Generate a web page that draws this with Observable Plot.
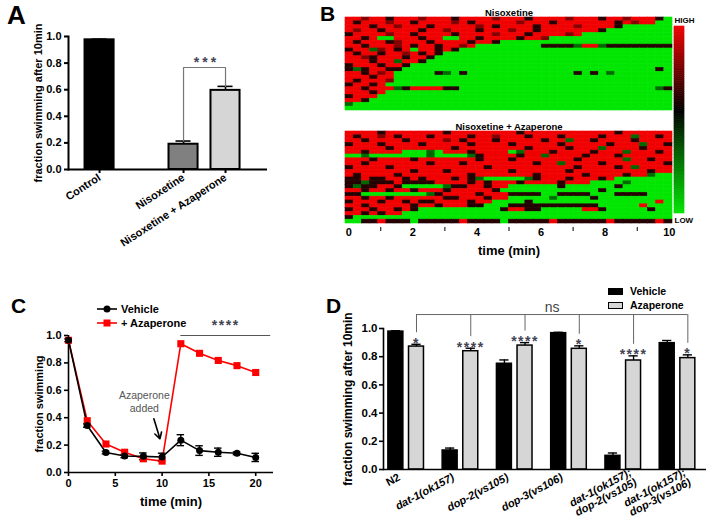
<!DOCTYPE html>
<html>
<head>
<meta charset="utf-8">
<script src="https://cdn.jsdelivr.net/npm/d3@7"></script>
<script src="https://cdn.jsdelivr.net/npm/@observablehq/plot@0.6"></script>
<style>
  html, body { margin: 0; padding: 0; background: #fff; }
  #fig { position: relative; width: 712px; height: 529px; overflow: hidden; background: #fff;
         font-family: "Liberation Sans", Arial, sans-serif; color: #000; }
  .letter { position: absolute; font-family: "Liberation Sans", Arial, sans-serif; font-weight: bold; line-height: normal; }
  .leg { position: absolute; font-weight: bold; white-space: nowrap; line-height: normal; }
</style>
</head>
<body>
<div id="fig"></div>
<script>
// ================= DATA =================
// Panel A
const catsA = ["Control", "Nisoxetine", "Nisoxetine + Azaperone"];
const valsA = [0.975, 0.19, 0.595];
const errsA = [0.005, 0.024, 0.03];
const sigPairA = ["Nisoxetine", "Nisoxetine + Azaperone"];
const sigLabelA = "***";
const sigLevelA = 0.767;

// Panel B (heat maps: G bright green … K black … R bright red)
const panelsB = ["Nisoxetine", "Nisoxetine + Azaperone"];
const heatStart = -0.1, heatEnd = 10.1;
const heatNis = [
  "RRrRRKRRRr RRRKRRRRrR RRKRRRRrRR RKRRrRRRKG",
  "RKRRRrRRKR RRRrRKRRRR RrRRRKRRRR RRRKRrRRGG",
  "RRRKRRrRRR KRRRRRrRKR RRRKRRRRrR RRRKGGGGGG",
  "RrRRKRRRRK RRrRRRKRRR rRRKRRRRRR RKGGGGGGGG",
  "KRRRRrRRKR RRRKRRRRrR RRKRRRRrRG GGGGGGGGGG",
  "RRKRGGRRRK RRGGRRKRRR RKRRrGGGGG GGGGGGGGGG",
  "RKRRRKrRRR KRRRRKRRKG GGGGGGGGGG GGGGGGGGGG",
  "RRKRRRrRKR RKRRrRGGGG GGGGKKKKgR RgKKKKKKKK",
  "KRRgrRKRGR RKRKGGGGGG GGGGGGGGGG GGGGGGGGGG",
  "RKRRKRRrRK RKGGGGGGGG GGGGGGGGGG GGGGGGGGGG",
  "RRrKRRRKRR KGGGGGGGGG GGGGGGGGGG GGGGGGGGGG",
  "RRRKRRgRRK GGGGGGGGGG GGGGGGGGGG GGGGGGGGGG",
  "KRRRKRRKGG GGGGGGGGGG GGGGGGGGGG GGGGGGGGGG",
  "KgKRRKKGGG GGGGGGGGGG GGGGGGGGGG GGGGGGGGKG",
  "RRKRrRGGGG GKgGKGGGGG GGGGGGGGKG KGgGGGGGGG",
  "RRRKRRGGGG GGGGGGGGGG GGGGGGGGGG GGGGGGGGGG",
  "RKRRRrGGGG GGGGGGGGGG GGGGGGGGGG GGGGGGGGGG",
  "KRRKRGGGGG GGGGGGGGGG GGGGGGGGGG GGGGGGGGGG",
  "RRKRRRgKRR RRKKGGGGGG GGGGGGGGGG GGGGGGGGgK",
  "RRRKRGGGGG GGGGGGGGGG GGGGGGGGGG GGGGGGGGGG",
  "KRRRGGGGGG GGGGGGGGGG GGGGGGGGGG GGGGGGGGGG",
  "RRKGGGGGGG GGGGGGGGGG GGGGGGGGGG GGGGGGGGGG",
  "gGGGGGGGGG GGGGGGGGGG GGGGGGGGGG GGGGGGGGGG",
  "GGGGGGGGGG GGGGGGGGGG GGGGGGGGGG GGGGGGGGGG"
];
const heatNisAza = [
  "RRRRKRRRRR RRKRRRRRRR RKRRRRRRRR RRRKRRRRRR",
  "RKRRrRKRRR KRRRRKRRrR RRKRRRKRRR RKRRRgRRKR",
  "RRKRRRRKRR RRrRKRRRKR RRRRKRRgRR KRRRRKRRRR",
  "KRRRKRRRRK RRRRRKRRRR KRRRRRKRRR RRKRRRgRRK",
  "RRRRRKRRRR RRRKRRRRRR RRKRRRRKRR RgRRRRKRRR",
  "RRKRRRRGGG gGRRRKRRRR GgRRRKRRRR KRRRgRRRKR",
  "GGgGGGGGGG gGGGGgKRRR RKRRgRRRRK RRRKRRRRRR",
  "RRRKRRRRKR RRRRRRKRRR KRRRRRRRKR RRRRgRRKRR",
  "RRKRRRRRRR KRRRKRRRRR RRRKRRgRRR RKRRRRRRRK",
  "KRRRRKRRRR RRRRRRRKRR RRRRRRRRKR RRRKRgRRRR",
  "RRRRRRRRKR RRKRRRRRRR KRRRRRRKRR RRRRRRRKRR",
  "RKRRRRKRRR RRRRRKRRRR RRRKRRRRRK RRRRKRRgGG",
  "KKRKKRRKRK RRRKRKgGGG GGgKRRRKRR RKRGGGGGGG",
  "KKgKKKRKKK KRRRRKRKRR RKRRRRKRRR GGGGgGGGGG",
  "KgKKRRKGGG GGgKKRRKRR GGGGGGKGGG GGGKGGGGGG",
  "RRKRRKRRKR RRKRRRRRKG GGGGGGGGGG GKGGGGGGGG",
  "KKGGGGGGGG gKRRRRKRRR KKKKGGKKKK GGGKKKKGGG",
  "RRKRRKRRRR RRKKRRRKRR GGGGGgGGGG KGGGGGGGGG",
  "KRRRKRRKRK KRRRRKRRGG GGKGGGGGGG GGGGGGGGRG",
  "RRKRRRRRKR RKRRRKKGGG KKKKKKKKKK KGGGGGRGGG",
  "KRRKRRKRKG GGGGGGGGGK RRKKGGGGGR RKGGGGGKGG",
  "RRKRKRRGGG GGGGGGGGGG GGGGGGGGGG GGGGGGGGGG",
  "KGGGGGGGGG GGGGGGGGGG GGGGGGGGGG GGGGGGGGGG",
  "GGKKRKKKGK KKKKRKKKKG KKKKKRKKKK KKRKKKKKRK"
];
const heatLevel = {G: 0, g: 0.3, K: 0.62, r: 0.8, R: 1};
const colorbarLabels = ["HIGH", "LOW"];
const ticksB = [0, 2, 4, 6, 8, 10];
const minorTicksB = [1, 3, 5, 7, 9];

// Panel C
const timeC = [0, 2, 4, 6, 8, 10, 12, 14, 16, 18, 20];
const vehicleC = [0.965, 0.343, 0.146, 0.12, 0.118, 0.113, 0.236, 0.16, 0.148, 0.14, 0.11];
const vehicleErrC = [0.01, 0.012, 0.01, 0.012, 0.025, 0.028, 0.04, 0.035, 0.03, 0.01, 0.03];
const azaC = [0.965, 0.378, 0.208, 0.148, 0.1, 0.083, 0.94, 0.87, 0.818, 0.78, 0.73];
const seriesC = ["Vehicle", "+ Azaperone"];
const sigSpanC = [12, 21.6];
const sigLevelC = 1.0;
const sigLabelC = "****";
const noteC = "Azaperone\nadded";
const noteAtC = [8.1, 0.52];
const arrowC = [9.12, 0.392, 9.77, 0.246];

// Panel D
const strainsD = ["N2", "dat-1(ok157)", "dop-2(vs105)", "dop-3(vs106)",
                  "dat-1(ok157);\ndop-2(vs105)", "dat-1(ok157);\ndop-3(vs106)"];
const treatD = ["Vehicle", "Azaperone"];
const vehicleD = [0.978, 0.135, 0.75, 0.967, 0.097, 0.896];
const vehicleErrD = [0.006, 0.017, 0.027, 0.006, 0.02, 0.019];
const azaD = [0.872, 0.839, 0.879, 0.856, 0.773, 0.79];
const azaErrD = [0.016, 0.021, 0.021, 0.021, 0.033, 0.023];
const sigD = ["*", "****", "****", "*", "****", "*"];
const nsLabelD = "ns";
const nsLevelD = 1.099;

// ================= DRAWING =================
const fig = document.getElementById("fig");
function place(node, left, top) {
  node.style.position = "absolute";
  node.style.left = left + "px";
  node.style.top = top + "px";
  fig.appendChild(node);
  return node;
}
function html(tag, cls, text, styles) {
  const e = document.createElement(tag);
  if (cls) e.className = cls;
  if (text != null) e.textContent = text;
  Object.assign(e.style, styles || {});
  fig.appendChild(e);
  return e;
}
const baseStyle = {
  fontFamily: '"Liberation Sans", Arial, sans-serif',
  fontSize: "11px", fontWeight: "bold",
  background: "transparent", overflow: "visible"
};
function spaceStars(svg, spacing) {
  svg.querySelectorAll("text").forEach(t => {
    if (/^\*+$/.test(t.textContent.trim())) t.setAttribute("letter-spacing", spacing);
  });
}
function styleLabel(svg, which, size) {
  svg.querySelectorAll(`g[aria-label="${which}-axis label"] text`).forEach(t => {
    t.setAttribute("font-size", size);
  });
}

// ---------- Panel A ----------
{
  const dataA = catsA.map((c, i) => ({cat: c, v: valsA[i], e: errsA[i]}));
  const top = c => valsA[catsA.indexOf(c)] + errsA[catsA.indexOf(c)];
  const bracket = [
    {x: sigPairA[0], y: top(sigPairA[0])},
    {x: sigPairA[0], y: sigLevelA},
    {x: sigPairA[1], y: sigLevelA},
    {x: sigPairA[1], y: top(sigPairA[1])}
  ];
  const svg = Plot.plot({
    width: 300, height: 265,
    marginLeft: 68, marginRight: 33, marginTop: 36, marginBottom: 96,
    style: baseStyle,
    x: {domain: [catsA[0], " ", catsA[1], catsA[2]], paddingInner: 0.26, paddingOuter: 0.5, align: 0.37, round: false},
    y: {domain: [0, 1]},
    color: {domain: catsA, range: ["#000000", "#808080", "#d6d6d6"]},
    marks: [
      Plot.barY(dataA, {x: "cat", y: "v", fill: "cat", stroke: "#000", strokeWidth: 2, insetLeft: 1, insetRight: 1}),
      Plot.ruleX(dataA, {x: "cat", y1: "v", y2: d => d.v + d.e, strokeWidth: 1.6}),
      Plot.tickY(dataA, {x: "cat", y: d => d.v + d.e, strokeWidth: 1.6, inset: 8}),
      Plot.line(bracket, {x: "x", y: "y", stroke: "#777", strokeWidth: 1.2}),
      Plot.text([sigLabelA], {x: () => sigPairA[0], y: () => sigLevelA, text: d => d, dx: 23, dy: -5,
                              fontSize: 14, fontWeight: "bold", fill: "#445"}),
      Plot.ruleY([0], {strokeWidth: 2}),
      Plot.frame({anchor: "left", strokeWidth: 2}),
      Plot.axisY({ticks: [0, 0.2, 0.4, 0.6, 0.8, 1.0], tickFormat: ".1f", tickSize: 4, tickPadding: 3, strokeWidth: 2,
                  label: "fraction swimming after 10min", labelAnchor: "center", labelOffset: 34, labelArrow: "none"}),
      Plot.axisX({ticks: catsA, tickRotate: -33, tickSize: 4, tickPadding: 3, strokeWidth: 2, label: null})
    ]
  });
  spaceStars(svg, 3);
  place(svg, 0, 0);
  html("div", "letter", "A", {left: "7px", top: "0px", fontSize: "26px"});
}

// ---------- Panel B ----------
const heatColor = {type: "linear", domain: [0, 0.55, 1], range: ["#00e600", "#000000", "#f00000"]};
{
  const mkCells = (rows) => {
    const cells = [];
    rows.forEach((s, i) => {
      const str = s.replace(/ /g, "");
      const dt = (heatEnd - heatStart) / str.length;
      [...str].forEach((ch, j) => cells.push({
        row: i, t1: heatStart + j * dt, t2: heatStart + (j + 1) * dt, v: heatLevel[ch]
      }));
    });
    return cells;
  };
  const heat = (rows, title, withAxis) => {
    const svg = Plot.plot({
      width: 360, height: withAxis ? 146 : 112,
      marginLeft: 25, marginRight: 8, marginTop: 17, marginBottom: withAxis ? 37 : 2,
      style: baseStyle,
      x: {domain: [heatStart, heatEnd], axis: withAxis ? undefined : null},
      y: {type: "band", domain: d3.range(rows.length), padding: 0, round: false, axis: null},
      color: heatColor,
      marks: [
        Plot.barX(mkCells(rows), {x1: "t1", x2: "t2", y: "row", fill: "v", stroke: "v", strokeWidth: 0.6}),
        Plot.text([title], {text: d => d, frameAnchor: "top", dy: -8, fontSize: 9.5}),
        ...(withAxis ? [
          Plot.axisX({ticks: minorTicksB, tickFormat: () => "", tickSize: 4, dy: 4}),
          Plot.axisX({ticks: ticksB, tickSize: 0, tickPadding: 5, fontSize: 11,
                      label: "time (min)", labelAnchor: "center", labelOffset: 31, labelArrow: "none"})
        ] : [])
      ]
    });
    svg.querySelectorAll('g[aria-label="bar"]').forEach(g => g.style.filter = "blur(0.7px)");
    return svg;
  };
  place(heat(heatNis, panelsB[0], false), 320, 0);
  const bottom = heat(heatNisAza, panelsB[1], true);
  styleLabel(bottom, "x", 13);
  place(bottom, 320, 114);
  html("div", "letter", "B", {left: "320px", top: "2px", fontSize: "21px"});

  const levels = d3.range(0, 1, 0.01);
  const bar = Plot.plot({
    width: 40, height: 230,
    marginLeft: 5, marginRight: 25, marginTop: 26, marginBottom: 17,
    style: baseStyle,
    x: {domain: [0, 1], axis: null},
    y: {domain: [0, 1], axis: null},
    color: heatColor,
    marks: [
      Plot.rect(levels, {x1: 0, x2: 1, y1: d => d, y2: d => Math.min(1, d + 0.01),
                         fill: d => d + 0.005, stroke: d => d + 0.005, strokeWidth: 0.6}),
      Plot.text([colorbarLabels[0]], {x: 0, y: 1, text: d => d, textAnchor: "start", dy: -6, fontSize: 8}),
      Plot.text([colorbarLabels[1]], {x: 0, y: 0, text: d => d, textAnchor: "start", dy: 7, fontSize: 8})
    ]
  });
  place(bar, 669, 0);
}

// ---------- Panel C ----------
{
  const veh = timeC.map((t, i) => ({t, v: vehicleC[i], e: vehicleErrC[i]}));
  const aza = timeC.map((t, i) => ({t, v: azaC[i]}));
  const red = "#ff0000";
  const svg = Plot.plot({
    width: 300, height: 259,
    marginLeft: 68, marginRight: 27, marginTop: 65, marginBottom: 57,
    style: baseStyle,
    x: {domain: [0, 21.9]},
    y: {domain: [0, 1]},
    marks: [
      Plot.ruleY([0], {strokeWidth: 1.6}),
      Plot.ruleX([0], {strokeWidth: 1.6}),
      Plot.axisX({ticks: [0, 5, 10, 15, 20], tickSize: 4, tickPadding: 3, strokeWidth: 1.6,
                  label: "time (min)", labelAnchor: "center", labelOffset: 33, labelArrow: "none"}),
      Plot.axisY({ticks: [0, 0.2, 0.4, 0.6, 0.8, 1.0], tickFormat: ".1f", tickSize: 4, tickPadding: 3, strokeWidth: 1.6,
                  label: "fraction swimming", labelAnchor: "center", labelOffset: 33, labelArrow: "none"}),
      Plot.line(aza, {x: "t", y: "v", stroke: red, strokeWidth: 1.6}),
      Plot.ruleX(veh, {x: "t", y1: d => d.v - d.e, y2: d => d.v + d.e, strokeWidth: 1.4}),
      Plot.ruleY(veh, {y: d => d.v + d.e, x1: d => d.t - 0.4, x2: d => d.t + 0.4, strokeWidth: 1.4}),
      Plot.ruleY(veh, {y: d => d.v - d.e, x1: d => d.t - 0.4, x2: d => d.t + 0.4, strokeWidth: 1.4}),
      Plot.line(veh, {x: "t", y: "v", stroke: "#000", strokeWidth: 1.6}),
      Plot.dot(aza, {x: "t", y: "v", symbol: "square", r: 4, fill: red}),
      Plot.dot(veh, {x: "t", y: "v", r: 3.5, fill: "#000"}),
      Plot.ruleY([sigLevelC], {x1: sigSpanC[0], x2: sigSpanC[1], stroke: "#555", strokeWidth: 1}),
      Plot.text([sigLabelC], {x: () => (sigSpanC[0] + sigSpanC[1]) / 2, y: () => sigLevelC, text: d => d, dy: -10,
                              fontSize: 14, fontWeight: "bold", fill: "#445"}),
      Plot.text([noteC], {x: () => noteAtC[0], y: () => noteAtC[1], text: d => d, fontSize: 10.5, fontWeight: "normal", fill: "#555", lineHeight: 1.25}),
      Plot.arrow([arrowC], {x1: d => d[0], y1: d => d[1], x2: d => d[2], y2: d => d[3], strokeWidth: 1.6, headLength: 7})
    ]
  });
  spaceStars(svg, 1.5);
  styleLabel(svg, "x", 13);
  place(svg, 0, 270);
  html("div", "letter", "C", {left: "11px", top: "294px", fontSize: "21px"});

  // legend
  const mk = (top, color, square, label) => {
    const row = html("div", "leg", null, {left: "96px", top: top + "px", height: "13px", fontSize: "11px"});
    const ns = "http://www.w3.org/2000/svg";
    const s = document.createElementNS(ns, "svg");
    s.setAttribute("width", 22); s.setAttribute("height", 12);
    s.style.position = "absolute"; s.style.left = "0px"; s.style.top = "0px";
    const l = document.createElementNS(ns, "line");
    l.setAttribute("x1", 1); l.setAttribute("x2", 21); l.setAttribute("y1", 6); l.setAttribute("y2", 6);
    l.setAttribute("stroke", color); l.setAttribute("stroke-width", 1.6);
    s.appendChild(l);
    let m;
    if (square) { m = document.createElementNS(ns, "rect"); m.setAttribute("x", 7.5); m.setAttribute("y", 2.5); m.setAttribute("width", 7); m.setAttribute("height", 7); }
    else { m = document.createElementNS(ns, "circle"); m.setAttribute("cx", 11); m.setAttribute("cy", 6); m.setAttribute("r", 3.5); }
    m.setAttribute("fill", color);
    s.appendChild(m);
    row.appendChild(s);
    const t = document.createElement("span");
    t.textContent = label;
    t.style.position = "absolute"; t.style.left = "25px"; t.style.top = "-0.5px";
    row.appendChild(t);
  };
  mk(303, "#000", false, seriesC[0]);
  mk(317, red, true, seriesC[1]);
}

// ---------- Panel D ----------
{
  const dodge = {Vehicle: -0.19, Azaperone: 0.19};
  const halfBar = 0.138, cap = 0.085;
  const bars = [];
  strainsD.forEach((s, i) => {
    bars.push({i, trt: treatD[0], v: vehicleD[i], e: vehicleErrD[i]});
    bars.push({i, trt: treatD[1], v: azaD[i], e: azaErrD[i], sig: sigD[i]});
  });
  const cx = d => d.i + dodge[d.trt];
  const azaBars = bars.filter(d => d.trt === treatD[1]);
  const nsSpan = [{x1: cx(azaBars[0]), x2: cx(azaBars[azaBars.length - 1])}];
  const idx = strainsD.map((s, i) => i);
  const wild = idx.filter(i => i === 0);
  const single = idx.filter(i => i > 0 && !strainsD[i].includes("\n"));
  const dbl = idx.filter(i => strainsD[i].includes("\n"));
  const fmt = i => strainsD[i];
  const svg = Plot.plot({
    width: 372, height: 259,
    marginLeft: 43, marginRight: 6, marginTop: 58, marginBottom: 60,
    style: baseStyle,
    x: {domain: [-0.418, strainsD.length - 1 + 0.534]},
    y: {domain: [0, 1]},
    color: {domain: treatD, range: ["#000000", "#d6d6d6"]},
    marks: [
      Plot.rectY(bars, {x1: d => cx(d) - halfBar, x2: d => cx(d) + halfBar, y1: 0, y2: "v", fill: "trt", stroke: "#000", strokeWidth: 1.5}),
      Plot.ruleX(bars, {x: cx, y1: "v", y2: d => d.v + d.e, strokeWidth: 1.4}),
      Plot.ruleY(bars, {y: d => d.v + d.e, x1: d => cx(d) - cap, x2: d => cx(d) + cap, strokeWidth: 1.4}),
      Plot.ruleX(azaBars, {x: cx, y1: d => d.v + d.e + 0.082, y2: nsLevelD, stroke: "#666", strokeWidth: 1}),
      Plot.ruleY(nsSpan, {y: nsLevelD, x1: "x1", x2: "x2", stroke: "#666", strokeWidth: 1}),
      Plot.text(nsSpan, {x: d => (d.x1 + d.x2) / 2, y: nsLevelD, text: () => nsLabelD, dy: -7, fontSize: 14, fontWeight: "normal", fill: "#444"}),
      Plot.text(azaBars, {x: cx, y: d => d.v + d.e, text: "sig", dy: -1, fontSize: 14, fontWeight: "bold", fill: "#445"}),
      Plot.ruleY([0], {strokeWidth: 1.6}),
      Plot.frame({anchor: "left", strokeWidth: 1.6}),
      Plot.axisY({ticks: [0, 0.2, 0.4, 0.6, 0.8, 1.0], tickFormat: ".1f", tickSize: 4, tickPadding: 2, strokeWidth: 1.6, fontSize: 11.5,
                  label: "fraction swimming after 10min", labelAnchor: "center", labelOffset: 40, labelArrow: "none"}),
      Plot.axisX({ticks: wild, tickFormat: fmt, tickRotate: -28, tickSize: 0, tickPadding: 7, dx: -7, fontSize: 11, label: null}),
      Plot.axisX({ticks: single, tickFormat: fmt, tickRotate: -28, tickSize: 0, tickPadding: 7, dx: -7, fontSize: 11, fontStyle: "italic", label: null}),
      Plot.axisX({ticks: dbl, tickFormat: fmt, tickRotate: -28, tickSize: 0, tickPadding: 7, dx: 10, fontSize: 11, fontStyle: "italic", label: null})
    ]
  });
  spaceStars(svg, 1.5);
  styleLabel(svg, "y", 12);
  place(svg, 340, 270);
  html("div", "letter", "D", {left: "326px", top: "294px", fontSize: "21px"});

  // legend
  html("div", null, null, {position: "absolute", left: "608px", top: "288px", width: "15px", height: "7px", background: "#000"});
  html("div", null, null, {position: "absolute", left: "608px", top: "302px", width: "13px", height: "5px", background: "#d6d6d6", border: "1px solid #000"});
  html("div", "leg", treatD[0], {left: "630px", top: "285px", fontSize: "10.5px"});
  html("div", "leg", treatD[1], {left: "630px", top: "299px", fontSize: "10.5px"});
}
</script>
</body>
</html>
